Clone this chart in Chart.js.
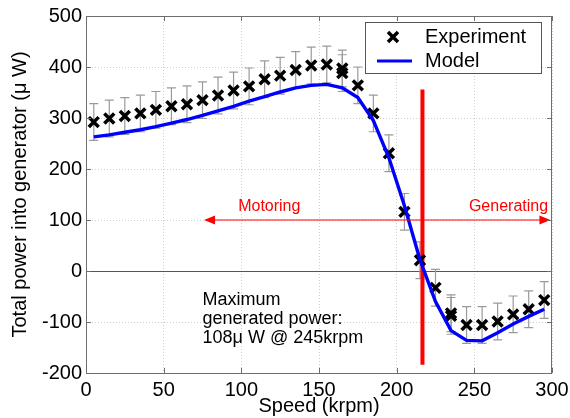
<!DOCTYPE html>
<html>
<head>
<meta charset="utf-8">
<script src="https://cdn.jsdelivr.net/npm/chart.js@4/dist/chart.umd.min.js"></script>
<style>
  html, body { margin: 0; padding: 0; background: #fff; }
  #wrap { width: 570px; height: 418px; }
</style>
</head>
<body>
<div id="wrap"><canvas id="powerChart" width="570" height="418"></canvas></div>
<script>
// measured points (krpm, uW) - two repeats at 165 and 235
const expSpeed = [5, 15, 25, 35, 45, 55, 65, 75, 85, 95, 105, 115, 125, 135, 145, 155, 165, 165,
  175, 185, 195, 205, 215, 225, 235, 235, 245, 255, 265, 275, 285, 295];
const expPower = [292, 299, 304, 309, 316, 323, 327, 335, 344, 354, 362, 376, 383, 394, 403, 405, 397, 388,
  364, 309, 231, 116, 21, -33, -83, -88, -106, -106, -99, -85, -75, -57];
const expError = 36;

// model curve
const modelSpeed = [5, 15, 25, 35, 45, 55, 65, 75, 85, 95, 105, 115, 125, 135, 145, 155, 165, 175,
  185, 195, 205, 215, 225, 235, 245, 255, 265, 275, 285, 295];
const modelPower = [263, 267, 272, 277, 283, 290, 297, 305, 314, 323, 333, 342, 351, 359, 364, 366, 359, 340,
  295, 222, 128, 22, -60, -117, -136, -137, -121, -104, -89, -75];

// motoring / generating boundary and arrows
const boundarySpeed = 216.6;
const boundaryRange = [-184, 356];
const arrowLevel = 100;
const motoringEnd = 76;
const generatingEnd = 299;

const xTicks = [0, 50, 100, 150, 200, 250, 300];
const yTicks = [-200, -100, 0, 100, 200, 300, 400, 500];

const FONT = "'Liberation Sans', Arial, Helvetica, sans-serif";

function toPoints(xs, ys) {
  return xs.map((x, i) => ({ x: x, y: ys[i] }));
}

function arrowHead(ctx, x, y, dir) {
  ctx.beginPath();
  ctx.moveTo(x, y);
  ctx.lineTo(x - dir * 11, y - 4.5);
  ctx.lineTo(x - dir * 11, y + 4.5);
  ctx.closePath();
  ctx.fill();
}

// error bars, zero line, frame, inner ticks, legend and notes
const decorations = {
  id: "decorations",
  beforeDatasetsDraw(chart) {
    const { ctx, chartArea: a, scales: { x, y } } = chart;
    ctx.save();
    // zero line
    ctx.strokeStyle = "#555";
    ctx.lineWidth = 1;
    ctx.beginPath();
    ctx.moveTo(a.left, Math.round(y.getPixelForValue(0)) + 0.5);
    ctx.lineTo(a.right, Math.round(y.getPixelForValue(0)) + 0.5);
    ctx.stroke();
    // error bars
    ctx.strokeStyle = "#9a9a9a";
    ctx.lineWidth = 1.2;
    expSpeed.forEach((s, i) => {
      const px = x.getPixelForValue(s);
      const top = y.getPixelForValue(expPower[i] + expError);
      const bot = y.getPixelForValue(expPower[i] - expError);
      ctx.beginPath();
      ctx.moveTo(px, top); ctx.lineTo(px, bot);
      ctx.moveTo(px - 4.5, top); ctx.lineTo(px + 4.5, top);
      ctx.moveTo(px - 4.5, bot); ctx.lineTo(px + 4.5, bot);
      ctx.stroke();
    });
    ctx.restore();
  },
  afterDatasetsDraw(chart) {
    const { ctx, chartArea: a, scales: { x, y } } = chart;
    ctx.save();
    // arrow heads
    ctx.fillStyle = "#ff0000";
    const ay = y.getPixelForValue(arrowLevel);
    arrowHead(ctx, x.getPixelForValue(motoringEnd), ay, -1);
    arrowHead(ctx, x.getPixelForValue(generatingEnd), ay, 1);

    // region labels
    ctx.font = "16px " + FONT;
    ctx.textBaseline = "alphabetic";
    ctx.textAlign = "center";
    ctx.fillText("Motoring", x.getPixelForValue(118), y.getPixelForValue(arrowLevel) - 9);
    ctx.fillText("Generating", x.getPixelForValue(272), y.getPixelForValue(arrowLevel) - 9);

    // note
    ctx.fillStyle = "#000";
    ctx.font = "18px " + FONT;
    ctx.textAlign = "left";
    const nx = x.getPixelForValue(75);
    ["Maximum", "generated power:", "108\u03bc W @ 245krpm"].forEach((t, i) => {
      ctx.fillText(t, nx, 305 + i * 19);
    });

    // frame and inner tick marks
    ctx.strokeStyle = "#6e6e6e";
    ctx.lineWidth = 1;
    ctx.strokeRect(a.left + 0.5, a.top + 0.5, a.right - a.left - 1, a.bottom - a.top);
    ctx.beginPath();
    xTicks.forEach(v => {
      const px = Math.round(x.getPixelForValue(v)) + 0.5;
      ctx.moveTo(px, a.bottom); ctx.lineTo(px, a.bottom - 5);
      ctx.moveTo(px, a.top); ctx.lineTo(px, a.top + 5);
    });
    yTicks.forEach(v => {
      const py = Math.round(y.getPixelForValue(v)) + 0.5;
      ctx.moveTo(a.left, py); ctx.lineTo(a.left + 5, py);
      ctx.moveTo(a.right, py); ctx.lineTo(a.right - 5, py);
    });
    ctx.stroke();

    // legend
    ctx.fillStyle = "#fff";
    ctx.fillRect(365, 22, 176, 51);
    ctx.strokeStyle = "#555";
    ctx.strokeRect(365.5, 22.5, 176, 51);
    ctx.strokeStyle = "#000";
    ctx.lineWidth = 3.5;
    ctx.beginPath();
    ctx.moveTo(388, 32); ctx.lineTo(398, 42);
    ctx.moveTo(398, 32); ctx.lineTo(388, 42);
    ctx.stroke();
    ctx.strokeStyle = "#0000ff";
    ctx.lineWidth = 3;
    ctx.beginPath();
    ctx.moveTo(377, 61); ctx.lineTo(412, 61);
    ctx.stroke();
    ctx.fillStyle = "#000";
    ctx.font = "20px " + FONT;
    ctx.textBaseline = "middle";
    ctx.fillText("Experiment", 425, 37);
    ctx.fillText("Model", 425, 61);
    ctx.restore();
  }
};

new Chart(document.getElementById("powerChart"), {
  type: "line",
  data: {
    datasets: [
      {
        label: "Motoring",
        data: [{ x: boundarySpeed, y: arrowLevel }, { x: motoringEnd + 3, y: arrowLevel }],
        borderColor: "#ff0000",
        borderWidth: 1,
        pointRadius: 0
      },
      {
        label: "Generating",
        data: [{ x: boundarySpeed, y: arrowLevel }, { x: generatingEnd - 3, y: arrowLevel }],
        borderColor: "#ff0000",
        borderWidth: 1,
        pointRadius: 0
      },
      {
        label: "Model",
        data: toPoints(modelSpeed, modelPower),
        borderColor: "#0000ff",
        borderWidth: 3.4,
        pointRadius: 0,
        tension: 0
      },
      {
        label: "Experiment",
        data: toPoints(expSpeed, expPower),
        showLine: false,
        pointStyle: "crossRot",
        pointRadius: 7,
        borderColor: "#000",
        borderWidth: 3.5
      },
      {
        label: "Boundary",
        data: [{ x: boundarySpeed, y: boundaryRange[0] }, { x: boundarySpeed, y: boundaryRange[1] }],
        borderColor: "#ff0000",
        borderWidth: 4,
        pointRadius: 0
      }
    ]
  },
  options: {
    responsive: false,
    animation: false,
    layout: { padding: { top: 16, right: 18, left: 0, bottom: 0 } },
    plugins: {
      legend: { display: false },
      tooltip: { enabled: false }
    },
    scales: {
      x: {
        type: "linear",
        min: 0,
        max: 300,
        afterFit(scale) {
          scale.height = 45;
          scale.paddingLeft = 0;
          scale.paddingRight = 0;
        },
        afterBuildTicks(scale) { scale.ticks = xTicks.map(v => ({ value: v })); },
        ticks: { color: "#000", font: { family: FONT, size: 20 }, padding: 5, maxRotation: 0 },
        grid: { color: "#cfcfcf", drawTicks: false },
        border: { display: false, dash: [1, 2] },
        title: {
          display: true,
          text: "Speed (krpm)",
          color: "#000",
          font: { family: FONT, size: 20 },
          padding: { top: 0, bottom: 0 }
        }
      },
      y: {
        min: -200,
        max: 500,
        afterFit(scale) {
          scale.width = 86;
          scale.paddingTop = 0;
          scale.paddingBottom = 0;
        },
        afterBuildTicks(scale) { scale.ticks = yTicks.map(v => ({ value: v })); },
        ticks: { color: "#000", font: { family: FONT, size: 20 }, padding: 4 },
        grid: { color: "#cfcfcf", drawTicks: false },
        border: { display: false, dash: [1, 2] },
        title: {
          display: true,
          text: "Total power into generator (\u03bc W)",
          color: "#000",
          font: { family: FONT, size: 20 },
          padding: { top: 8, bottom: 0 }
        }
      }
    }
  },
  plugins: [decorations]
});
</script>
</body>
</html>
